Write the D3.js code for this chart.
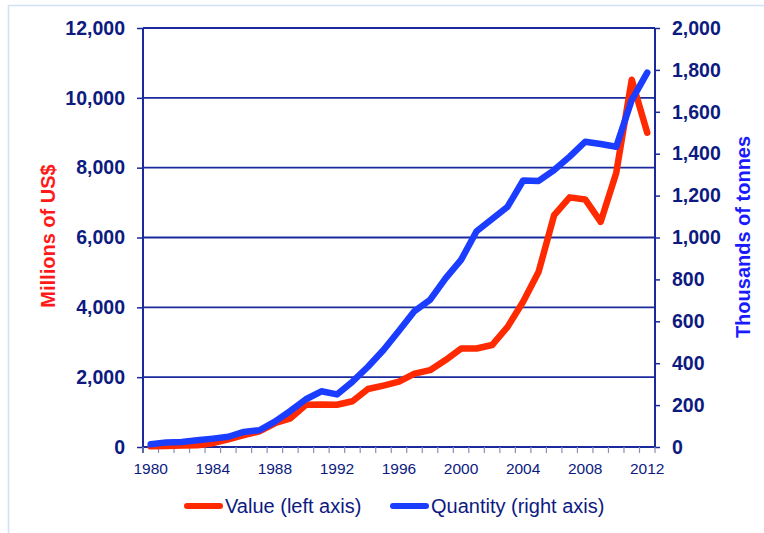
<!DOCTYPE html>
<html>
<head>
<meta charset="utf-8">
<script src="https://cdn.jsdelivr.net/npm/d3@7"></script>
<style>
  html, body { margin: 0; padding: 0; background: #fff; }
  svg { display: block; font-family: "Liberation Sans", Arial, sans-serif; }
</style>
</head>
<body>
<svg id="chart" width="764" height="533"></svg>
<script>
// Export value and volume, 1980-2012
const years = d3.range(1980, 2013);
const valueMillionUSD = [
  20, 30, 40, 50, 110, 220, 340, 450, 680, 820,
  1210, 1220, 1210, 1310, 1660, 1760, 1870, 2100, 2200, 2490,
  2820, 2820, 2920, 3440, 4160, 5020, 6640, 7150, 7090, 6450,
  7850, 10520, 9000
];
const quantityThousandTonnes = [
  13, 22, 24, 32, 40, 49, 72, 80, 121, 172,
  228, 266, 251, 312, 383, 463, 555, 649, 702, 805,
  893, 1030, 1088, 1147, 1272, 1270, 1322, 1386, 1457, 1446,
  1433, 1656, 1787
];
const leftTicks = [0, 2000, 4000, 6000, 8000, 10000, 12000];
const rightTicks = d3.range(0, 2001, 200);
const yearLabels = [1980, 1984, 1988, 1992, 1996, 2000, 2004, 2008, 2012];

const navy = "#0d1a80";
const gridColor = "#1a2a9c";
const red = "#ff2a00";
const blue = "#1a3dff";

const svg = d3.select("#chart");

// outer frame (top and left edges visible)
svg.append("path")
  .attr("d", "M8.5,533 L8.5,5.5 L764,5.5")
  .attr("fill", "none")
  .attr("stroke", "#d3e2f5")
  .attr("stroke-width", 1.6);

const plot = { left: 143, right: 655, top: 28, bottom: 447 };

const x = d3.scaleBand()
  .domain(years)
  .range([plot.left, plot.right])
  .paddingInner(0).paddingOuter(0);
const xc = d => x(d) + x.bandwidth() / 2;

const yL = d3.scaleLinear().domain([0, 12000]).range([plot.bottom, plot.top]);
const yR = d3.scaleLinear().domain([0, 2000]).range([plot.bottom, plot.top]);

// horizontal gridlines
svg.append("g")
  .selectAll("line")
  .data(leftTicks.filter(t => t > 0))
  .join("line")
  .attr("x1", plot.left).attr("x2", plot.right)
  .attr("y1", d => yL(d)).attr("y2", d => yL(d))
  .attr("stroke", gridColor)
  .attr("stroke-width", 1.8);

// left axis
const leftAxis = svg.append("g")
  .attr("transform", `translate(${plot.left},0)`)
  .call(d3.axisLeft(yL).tickValues(leftTicks).tickSize(6).tickPadding(12)
    .tickFormat(d3.format(",")));
leftAxis.select(".domain").attr("stroke", gridColor).attr("stroke-width", 2)
  .attr("d", `M0,${plot.top}V${plot.bottom + 6}`);
leftAxis.selectAll(".tick line").attr("stroke", gridColor).attr("stroke-width", 1.5);
leftAxis.selectAll(".tick text")
  .attr("fill", navy).attr("font-size", "19.5px").attr("font-weight", "bold")
  .attr("font-family", "Liberation Sans, Arial, sans-serif");

// right axis
const rightAxis = svg.append("g")
  .attr("transform", `translate(${plot.right},0)`)
  .call(d3.axisRight(yR).tickValues(rightTicks).tickSize(5).tickPadding(12)
    .tickFormat(d3.format(",")));
rightAxis.select(".domain").attr("stroke", gridColor).attr("stroke-width", 2)
  .attr("d", `M0,${plot.top}V${plot.bottom}`);
rightAxis.selectAll(".tick line").attr("stroke", gridColor).attr("stroke-width", 1.5);
rightAxis.selectAll(".tick text")
  .attr("fill", navy).attr("font-size", "19.5px").attr("font-weight", "bold")
  .attr("font-family", "Liberation Sans, Arial, sans-serif");

// bottom axis: ticks between categories, labels every four years
const bottom = svg.append("g");
bottom.append("line")
  .attr("x1", plot.left).attr("x2", plot.right)
  .attr("y1", plot.bottom).attr("y2", plot.bottom)
  .attr("stroke", gridColor).attr("stroke-width", 2);
bottom.selectAll("line.tk")
  .data(years.concat([2013]))
  .join("line")
  .attr("class", "tk")
  .attr("x1", d => d === 2013 ? plot.right : x(d))
  .attr("x2", d => d === 2013 ? plot.right : x(d))
  .attr("y1", plot.bottom).attr("y2", plot.bottom + 6)
  .attr("stroke", "#8a8fb5").attr("stroke-width", 1.2);
bottom.selectAll("text")
  .data(yearLabels)
  .join("text")
  .attr("x", d => xc(d))
  .attr("y", plot.bottom + 27)
  .attr("text-anchor", "middle")
  .attr("fill", navy)
  .attr("font-size", "15.5px")
  .text(d => d);

// series lines
const lineL = d3.line().x((d, i) => xc(years[i])).y(d => yL(d));
const lineR = d3.line().x((d, i) => xc(years[i])).y(d => yR(d));

svg.append("path")
  .datum(valueMillionUSD)
  .attr("d", lineL)
  .attr("fill", "none")
  .attr("stroke", red)
  .attr("stroke-width", 6.5)
  .attr("stroke-linejoin", "round")
  .attr("stroke-linecap", "round");

svg.append("path")
  .datum(quantityThousandTonnes)
  .attr("d", lineR)
  .attr("fill", "none")
  .attr("stroke", blue)
  .attr("stroke-width", 6.5)
  .attr("stroke-linejoin", "round")
  .attr("stroke-linecap", "round");

// axis titles
svg.append("text")
  .attr("transform", "translate(55,236) rotate(-90)")
  .attr("text-anchor", "middle")
  .attr("fill", "#ff1a1a")
  .attr("font-size", "20px")
  .attr("font-weight", "bold")
  .text("Millions of US$");

svg.append("text")
  .attr("transform", "translate(750,237) rotate(-90)")
  .attr("text-anchor", "middle")
  .attr("fill", "#1a1aff")
  .attr("font-size", "20px")
  .attr("font-weight", "bold")
  .text("Thousands of tonnes");

// legend
const legendItems = [
  { label: "Value (left axis)", color: red, x: 187 },
  { label: "Quantity (right axis)", color: blue, x: 393 }
];
const legend = svg.append("g");
legendItems.forEach(it => {
  legend.append("line")
    .attr("x1", it.x).attr("x2", it.x + 33)
    .attr("y1", 506).attr("y2", 506)
    .attr("stroke", it.color)
    .attr("stroke-width", 6)
    .attr("stroke-linecap", "round");
  legend.append("text")
    .attr("x", it.x + 38)
    .attr("y", 513)
    .attr("fill", navy)
    .attr("font-size", "20px")
    .text(it.label);
});
</script>
</body>
</html>
